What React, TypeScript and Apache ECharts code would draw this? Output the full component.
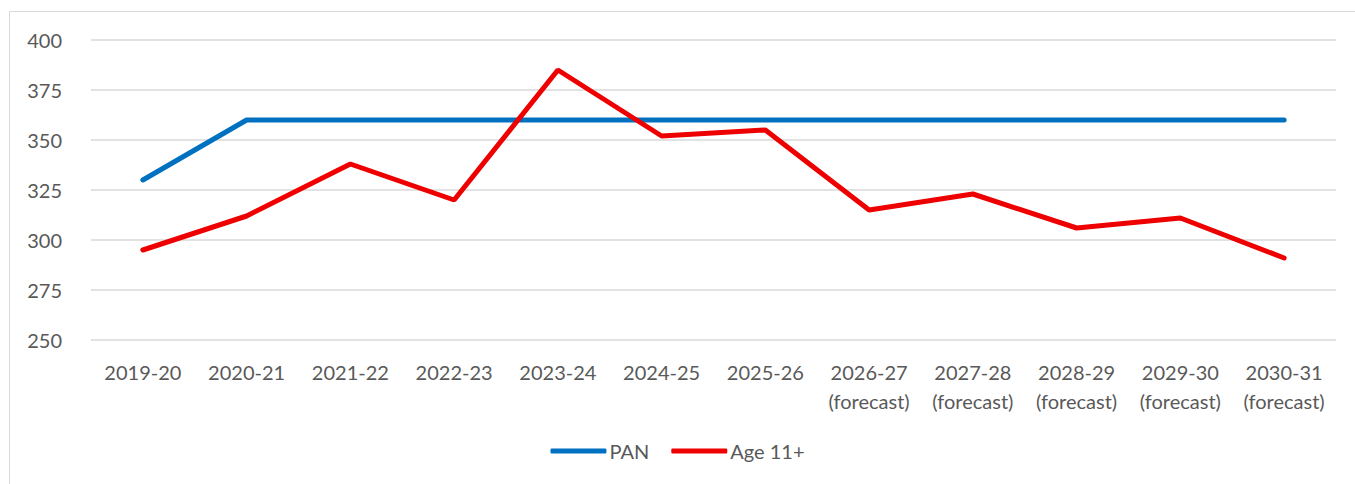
import React, { useEffect, useRef } from "react";
import * as echarts from "echarts";

const categories = [
  "2019-20", "2020-21", "2021-22", "2022-23", "2023-24", "2024-25", "2025-26",
  "2026-27\n(forecast)", "2027-28\n(forecast)", "2028-29\n(forecast)", "2029-30\n(forecast)", "2030-31\n(forecast)",
];
const panValues = [330, 360, 360, 360, 360, 360, 360, 360, 360, 360, 360, 360];
const ageValues = [295, 312, 338, 320, 385, 352, 355, 315, 323, 306, 311, 291];

const FONT = "Lato, 'Open Sans', sans-serif";
const FS = 20;

export default function App() {
  const ref = useRef<HTMLDivElement>(null);
  useEffect(() => {
    const chart = echarts.init(ref.current!, null, { renderer: "svg" });
    chart.setOption({
      animation: false,
      backgroundColor: "#ffffff",
      textStyle: { fontFamily: FONT },
      graphic: [
        {
          type: "rect",
          shape: { x: 9.5, y: 11.5, width: 1360, height: 480 },
          style: { fill: "none", stroke: "#d9d9d9", lineWidth: 1 },
          silent: true,
        },
      ],
      grid: { left: 91, right: 19, top: 40, bottom: 144, containLabel: false },
      legend: {
        bottom: 18,
        left: "center",
        icon: "roundRect",
        itemWidth: 56,
        itemHeight: 5,
        itemGap: 22,
        textStyle: { color: "#595959", fontSize: FS, fontFamily: FONT, padding: [0, 0, 0, -2] },
        data: ["PAN", "Age 11+"],
      },
      xAxis: {
        type: "category",
        data: categories,
        boundaryGap: true,
        axisLine: { show: false },
        axisTick: { show: false },
        axisLabel: {
          color: "#595959",
          fontSize: FS,
          fontFamily: FONT,
          margin: 17,
          lineHeight: 29,
          interval: 0,
        },
      },
      yAxis: {
        type: "value",
        min: 250,
        max: 400,
        interval: 25,
        axisLine: { show: false },
        axisTick: { show: false },
        splitLine: { lineStyle: { color: "#d9d9d9", width: 1.5 } },
        axisLabel: { color: "#595959", fontSize: FS, fontFamily: FONT, margin: 29 },
      },
      series: [
        {
          name: "PAN",
          type: "line",
          data: panValues,
          symbol: "none",
          color: "#0070C0",
          lineStyle: { width: 5, color: "#0070C0", cap: "round" },
        },
        {
          name: "Age 11+",
          type: "line",
          data: ageValues,
          symbol: "none",
          color: "#EE0000",
          lineStyle: { width: 5, color: "#EE0000", cap: "round" },
        },
      ],
    });
    return () => chart.dispose();
  }, []);
  return (
    <div
      ref={ref}
      style={{ position: "fixed", left: 0, top: 0, width: 1355, height: 484 }}
    />
  );
}
